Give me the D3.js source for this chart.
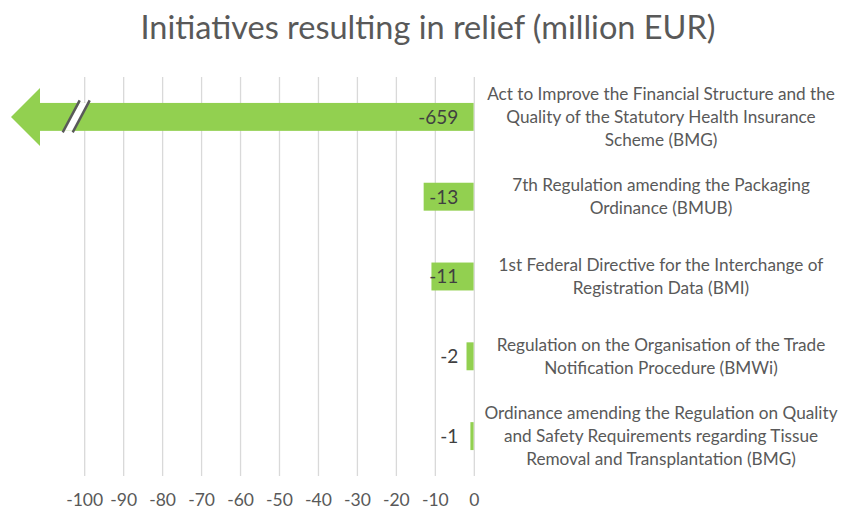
<!DOCTYPE html>
<html>
<head>
<meta charset="utf-8">
<script src="https://cdn.jsdelivr.net/npm/d3@7"></script>
<style>
  html, body { margin: 0; padding: 0; background: #fff; }
  svg { display: block; font-family: Lato, "Open Sans", sans-serif; }
</style>
</head>
<body>
<div id="chart"></div>
<script>
// Initiatives resulting in relief, horizontal bars with a broken axis for the big one
const categories = [
  "Act to Improve the Financial Structure and the|Quality of the Statutory Health Insurance|Scheme (BMG)",
  "7th Regulation amending the Packaging|Ordinance (BMUB)",
  "1st Federal Directive for the Interchange of|Registration Data (BMI)",
  "Regulation on the Organisation of the Trade|Notification Procedure (BMWi)",
  "Ordinance amending the Regulation on Quality|and Safety Requirements regarding Tissue|Removal and Transplantation (BMG)"
]
const values = [-659, -13, -11, -2, -1]
const tickValues = [-100, -90, -80, -70, -60, -50, -40, -30, -20, -10, 0]

const width = 842
const height = 516
const green = "#92d050"
const textColor = "#595959"

const svg = d3.select("#chart")
  .append("svg")
  .attr("width", width)
  .attr("height", height)

// Title
svg.append("text")
  .attr("x", 428)
  .attr("y", 39)
  .attr("text-anchor", "middle")
  .style("font-size", "32.5px")
  .style("fill", textColor)
  .text("Initiatives resulting in relief (million EUR)")

// Scales
const x = d3.scaleLinear()
  .domain([-100, 0])
  .range([84.7, 474.3])

const y = d3.scaleBand()
  .domain(categories)
  .range([77, 476])
  .paddingInner(0.65)
  .paddingOuter(0.325)

// Grid lines
svg.append("g")
  .selectAll("line")
  .data(tickValues)
  .enter()
  .append("line")
  .attr("x1", d => x(d))
  .attr("x2", d => x(d))
  .attr("y1", 77)
  .attr("y2", 476)
  .attr("stroke", "#d9d9d9")
  .attr("stroke-width", 1.3)

// Tick labels
svg.append("g")
  .selectAll("text")
  .data(tickValues)
  .enter()
  .append("text")
  .attr("x", d => x(d))
  .attr("y", 506)
  .attr("text-anchor", "middle")
  .style("font-size", "17.5px")
  .style("fill", textColor)
  .text(d => d)

const rows = categories.map((c, i) => ({ name: c, value: values[i] }))
const minDomain = x.domain()[0]
const arrowTip = 11
const arrowBack = 40

// Bars (clipped ones get extended out to the arrow)
svg.append("g")
  .selectAll("rect")
  .data(rows)
  .enter()
  .append("rect")
  .attr("x", d => d.value < minDomain ? arrowBack : x(d.value))
  .attr("y", d => y(d.name))
  .attr("width", d => x(0) - 0.7 - (d.value < minDomain ? arrowBack : x(d.value)))
  .attr("height", y.bandwidth())
  .attr("fill", green)

// Arrow head + break marks for values beyond the axis
rows.filter(d => d.value < minDomain).forEach(d => {
  const top = y(d.name)
  const bot = top + y.bandwidth()
  const mid = top + y.bandwidth() / 2
  svg.append("path")
    .attr("d", `M${arrowTip},${mid} L${arrowBack},${mid - 29} L${arrowBack},${mid + 29} Z`)
    .attr("fill", green)

  const bx = x(minDomain)
  // white gap between the two slashes
  svg.append("path")
    .attr("d", `M${bx - 21},${bot} L${bx - 5},${top} L${bx + 4},${top} L${bx - 12},${bot} Z`)
    .attr("fill", "#fff")
  ;[0, 10].forEach(off => {
    svg.append("line")
      .attr("x1", bx - 22 + off)
      .attr("y1", bot + 1.5)
      .attr("x2", bx - 5 + off)
      .attr("y2", top - 2.5)
      .attr("stroke", "#595959")
      .attr("stroke-width", 2.5)
  })
})

// Value labels, right-aligned near zero
svg.append("g")
  .selectAll("text")
  .data(rows)
  .enter()
  .append("text")
  .attr("x", x(0) - 16)
  .attr("y", d => y(d.name) + y.bandwidth() / 2)
  .attr("dy", "0.36em")
  .attr("text-anchor", "end")
  .style("font-size", "19px")
  .style("fill", "#404040")
  .text(d => d.value)

// Category labels to the right
const lineH = 23
svg.append("g")
  .selectAll("text")
  .data(rows)
  .enter()
  .append("text")
  .attr("text-anchor", "middle")
  .style("font-size", "17.2px")
  .style("fill", textColor)
  .each(function(d) {
    const lines = d.name.split("|")
    const cy = y(d.name) + y.bandwidth() / 2
    const t = d3.select(this)
    lines.forEach((ln, i) => {
      t.append("tspan")
        .attr("x", 661)
        .attr("y", cy + (i - (lines.length - 1) / 2) * lineH)
        .attr("dy", "0.35em")
        .text(ln)
    })
  })
</script>
</body>
</html>
